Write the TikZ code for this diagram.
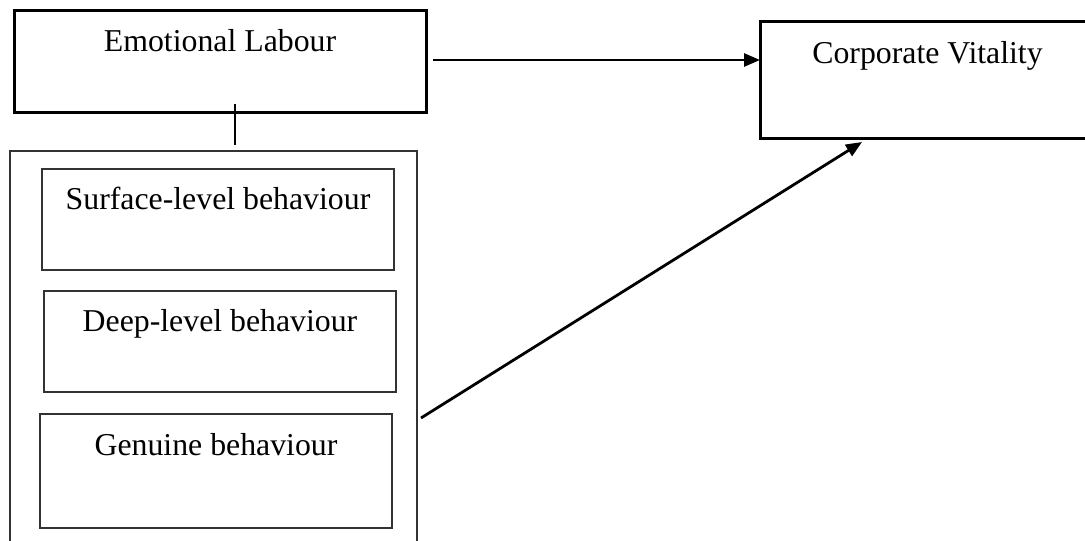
\documentclass[tikz,border=0pt]{standalone}
\usepackage{fontspec}
\setmainfont{Liberation Serif}
\usetikzlibrary{arrows.meta,calc}
\tikzset{
  mainbox/.style={draw=black, line width=3pt, rectangle, inner sep=0pt, outer sep=0pt},
  subbox/.style={draw=black!80, line width=1.4pt, rectangle, inner sep=0pt, outer sep=0pt},
  lbl/.style={anchor=base, inner sep=0pt, font=\fontsize{31.8pt}{38pt}\selectfont},
  arr/.style={line width=2.8pt, -{Triangle[length=16pt,width=13pt]}},
  conn/.style={line width=2.8pt}
}
\begin{document}
\begin{tikzpicture}[x=1pt,y=-1pt]
\useasboundingbox (0,0) rectangle (1085,541);
\clip (0,0) rectangle (1085,541);
% Emotional Labour
\node[mainbox, minimum width=412pt, minimum height=102pt] (el) at (220,61) {};
\node[lbl] (eltext) at (220,51) {Emotional Labour};
% Corporate Vitality
\node[mainbox, minimum width=335pt, minimum height=117pt] (cv) at (927.5,79.5) {};
\node[lbl] (cvtext) at (927.5,63) {Corporate Vitality};
% outer box
\node[subbox, minimum width=407pt, minimum height=400pt] (outer) at (213.5,351) {};
% sub boxes
\node[subbox, minimum width=352pt, minimum height=101pt] (sb) at (218,219.5) {};
\node[lbl] (sbtext) at (218,209) {Surface-level behaviour};
\node[subbox, minimum width=352pt, minimum height=101pt] (db) at (220,341.5) {};
\node[lbl] (dbtext) at (220,331) {Deep-level behaviour};
\node[subbox, minimum width=352pt, minimum height=114pt] (gb) at (216,471) {};
\node[lbl] (gbtext) at (216,455) {Genuine behaviour};
% connectors
\coordinate (vtop) at ([xshift=15pt,yshift=8pt]el.south);
\coordinate (vbot) at ([yshift=6pt]vtop |- outer.north);
\draw[conn] (vtop) -- (vbot);
\draw[arr] ([xshift=7pt,yshift=1pt]el.east) -- ([yshift=1pt]cv.west |- el.east);
\coordinate (dstart) at ([xshift=4pt,yshift=-4pt]outer.east |- gb.north);
\coordinate (dend) at ([xshift=-65.5pt,yshift=-4pt]cv.south);
\draw[arr] (dstart) -- (dend);
\end{tikzpicture}
\end{document}
